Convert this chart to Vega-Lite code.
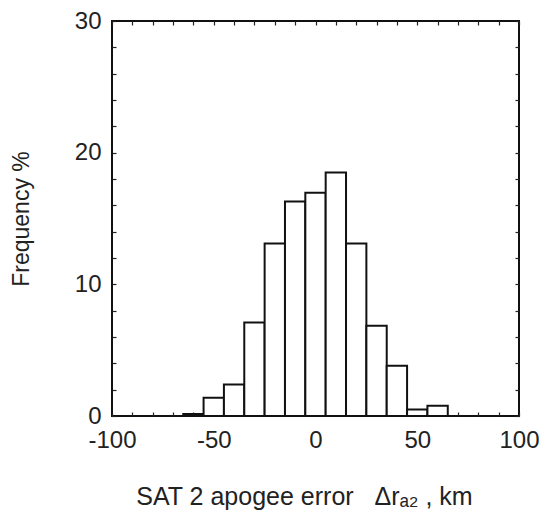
{
  "$schema": "https://vega.github.io/schema/vega-lite/v6.json",
  "autosize": {"type": "none"},
  "padding": {"left": 112, "top": 21, "right": 23, "bottom": 103},
  "width": 407,
  "height": 395,
  "background": "white",
  "config": {
    "view": {"stroke": "#111", "strokeWidth": 2},
    "font": "Liberation Sans",
    "axis": {
      "domain": false,
      "grid": false,
      "tickColor": "#222",
      "tickSize": -4,
      "tickWidth": 1.2,
      "labelFont": "Liberation Sans",
      "labelFontSize": 24,
      "labelColor": "#222",
      "labelFlush": false,
      "titleFont": "Liberation Sans",
      "titleFontSize": 23,
      "titleFontWeight": "normal",
      "titleColor": "#222"
    }
  },
  "data": {
    "values": [
      {"lo": -65, "hi": -55, "freq": 0.15},
      {"lo": -55, "hi": -45, "freq": 1.39},
      {"lo": -45, "hi": -35, "freq": 2.4},
      {"lo": -35, "hi": -25, "freq": 7.1},
      {"lo": -25, "hi": -15, "freq": 13.1},
      {"lo": -15, "hi": -5, "freq": 16.3},
      {"lo": -5, "hi": 5, "freq": 16.95},
      {"lo": 5, "hi": 15, "freq": 18.5},
      {"lo": 15, "hi": 25, "freq": 13.1},
      {"lo": 25, "hi": 35, "freq": 6.85},
      {"lo": 35, "hi": 45, "freq": 3.82},
      {"lo": 45, "hi": 55, "freq": 0.5},
      {"lo": 55, "hi": 65, "freq": 0.78}
    ]
  },
  "layer": [
    {
      "mark": {"type": "rect", "fill": "white", "stroke": "#111", "strokeWidth": 2},
      "encoding": {
        "x": {
          "field": "lo", "type": "quantitative",
          "scale": {"domain": [-100, 100], "nice": false, "zero": false},
          "axis": {
            "orient": "bottom",
            "values": [-100, -90, -80, -70, -60, -50, -40, -30, -20, -10, 0, 10, 20, 30, 40, 50, 60, 70, 80, 90, 100],
            "labelExpr": "datum.value % 50 == 0 ? ('' + datum.value) : ''",
            "labelPadding": 16,
            "title": "SAT 2 apogee error\u00a0\u00a0 Δrₐ₂ , km",
            "titleFontSize": 25,
            "titleX": 192,
            "titleAlign": "center",
            "titlePadding": 32
          }
        },
        "x2": {"field": "hi"},
        "y": {
          "field": "freq", "type": "quantitative",
          "scale": {"domain": [0, 30], "nice": false},
          "axis": {
            "orient": "left",
            "values": [0, 2, 4, 6, 8, 10, 12, 14, 16, 18, 20, 22, 24, 26, 28, 30],
            "labelExpr": "datum.value % 10 == 0 ? datum.label : ''",
            "labelPadding": 15,
            "title": "Frequency %",
            "titlePadding": 41
          }
        },
        "y2": {"datum": 0}
      }
    },
    {
      "mark": {"type": "rect", "opacity": 0},
      "encoding": {
        "x": {
          "field": "lo", "type": "quantitative",
          "scale": {"domain": [-100, 100], "nice": false, "zero": false},
          "axis": {
            "orient": "top",
            "values": [-100, -90, -80, -70, -60, -50, -40, -30, -20, -10, 0, 10, 20, 30, 40, 50, 60, 70, 80, 90, 100],
            "labels": false,
            "title": null
          }
        },
        "x2": {"field": "hi"},
        "y": {
          "field": "freq", "type": "quantitative",
          "scale": {"domain": [0, 30], "nice": false},
          "axis": {
            "orient": "right",
            "values": [0, 2, 4, 6, 8, 10, 12, 14, 16, 18, 20, 22, 24, 26, 28, 30],
            "labels": false,
            "title": null
          }
        },
        "y2": {"datum": 0}
      }
    }
  ],
  "resolve": {"axis": {"x": "independent", "y": "independent"}}
}
